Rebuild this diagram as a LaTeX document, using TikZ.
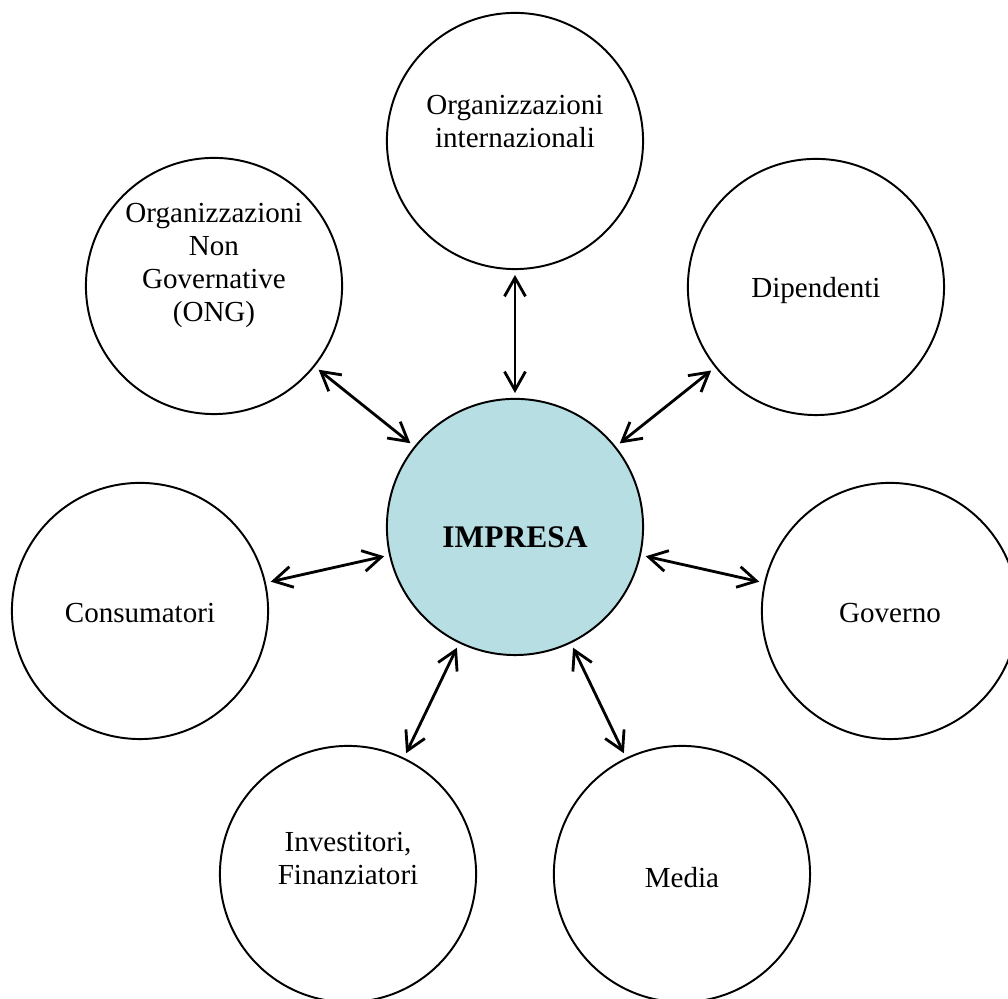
\documentclass[tikz,border=0pt]{standalone}
\usepackage{fontspec}
\setmainfont{Liberation Serif}
\usetikzlibrary{arrows.meta}
\definecolor{impresablue}{RGB}{183,222,227}
\tikzset{
    party/.style={circle, draw, line width=0.9pt, minimum size=4.15cm, inner sep=0pt},
    tag/.style={align=center, inner sep=0pt, font=\fontsize{13.4}{15.2}\selectfont},
    link/.style={{Straight Barb[length=0.3cm,width=0.34cm]}-{Straight Barb[length=0.3cm,width=0.34cm]},
        line width=1.3pt, shorten <=0.08cm, shorten >=0.08cm}
}
\begin{document}
\begin{tikzpicture}
    \useasboundingbox (0, 0) rectangle (16.33, -16.17);
    % circles
    \node[party, fill=impresablue] (impresa) at (8.343, -8.537) {};
    \node[party] (intl) at (8.343, -2.284) {};
    \node[party] (ong) at (3.467, -4.633) {};
    \node[party] (dip) at (13.219, -4.649) {};
    \node[party] (cons) at (2.268, -9.898) {};
    \node[party] (gov) at (14.418, -9.898) {};
    \node[party] (inv) at (5.638, -14.159) {};
    \node[party] (media) at (11.048, -14.159) {};
    % texts
    \node[tag, font=\fontsize{14.5}{16}\selectfont\bfseries] (impresatxt) at ([yshift=-0.16cm]impresa) {IMPRESA};
    \node[tag] (intltxt) at ([yshift=0.31cm]intl) {Organizzazioni\\internazionali};
    \node[tag] (ongtxt) at ([yshift=0.33cm]ong) {Organizzazioni\\Non\\Governative\\(ONG)};
    \node[tag] (diptxt) at ([yshift=-0.05cm]dip) {Dipendenti};
    \node[tag] (constxt) at ([yshift=-0.04cm]cons) {Consumatori};
    \node[tag] (govtxt) at ([yshift=-0.04cm]gov) {Governo};
    \node[tag] (invtxt) at ([yshift=0.25cm]inv) {Investitori,\\Finanziatori};
    \node[tag] (mediatxt) at ([yshift=-0.05cm]media) {Media};
    % arrows
    \draw[link] (impresa) -- (intl);
    \draw[link] (impresa) -- (ong);
    \draw[link] (impresa) -- (dip);
    \draw[link] (impresa) -- (cons);
    \draw[link] (impresa) -- (gov);
    \draw[link] (impresa) -- (inv);
    \draw[link] (impresa) -- (media);
\end{tikzpicture}
\end{document}
